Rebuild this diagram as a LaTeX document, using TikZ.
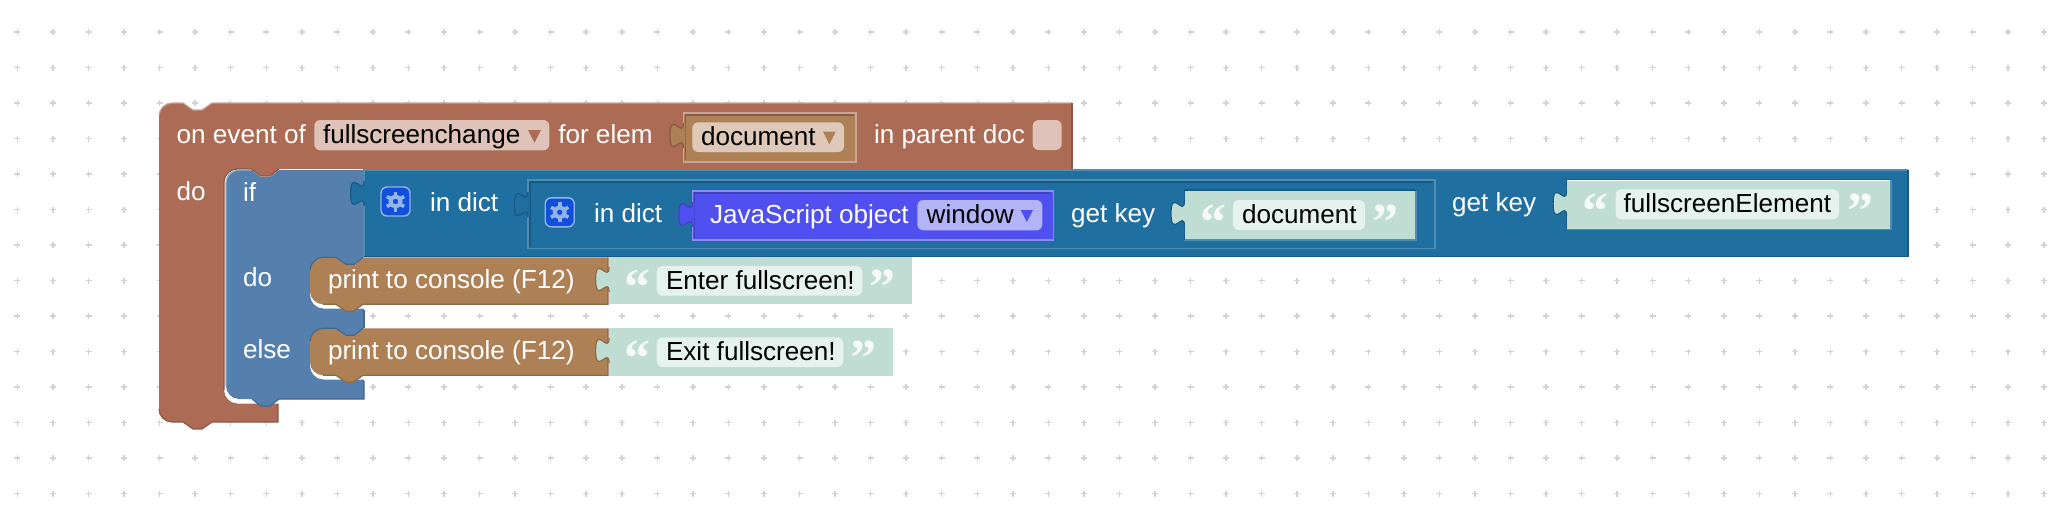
\documentclass[tikz,border=0pt]{standalone}
\usepackage{fontspec}
\setmainfont{Liberation Sans}
\newfontfamily\quotefont{Liberation Serif}[BoldFont={Liberation Serif Bold}]
\definecolor{evt}{HTML}{AB6B55}
\definecolor{evtL}{HTML}{C9A597}
\definecolor{evtD}{HTML}{8C5745}
\definecolor{evtF}{HTML}{DFC2B8}
\definecolor{lgc}{HTML}{5580AD}
\definecolor{lgcL}{HTML}{8FAECB}
\definecolor{lgcD}{HTML}{44688E}
\definecolor{dct}{HTML}{206FA1}
\definecolor{dctL}{HTML}{4F8DB5}
\definecolor{dctD}{HTML}{195A84}
\definecolor{prt}{HTML}{AD8155}
\definecolor{prtL}{HTML}{C7A888}
\definecolor{prtD}{HTML}{8D6944}
\definecolor{prtF}{HTML}{DEC9B8}
\definecolor{jso}{HTML}{5050F0}
\definecolor{jsoL}{HTML}{8C8CF6}
\definecolor{jsoD}{HTML}{4141C4}
\definecolor{jsoF}{HTML}{B3B3F8}
\definecolor{txb}{HTML}{BFDDD2}
\definecolor{txbF}{HTML}{E5F2EE}
\definecolor{txbD}{HTML}{9DBFB3}
\definecolor{gridc}{HTML}{D2D2D2}
\definecolor{gearb}{HTML}{1050DC}
\definecolor{gearc}{HTML}{94B4E8}
\tikzset{
  x=0.5pt,y=-0.5pt,
  lbl/.style={anchor=base west,inner sep=0pt,outer sep=0pt,font=\fontsize{13.05}{15}\selectfont,text=white},
  fldtxt/.style={lbl,text=black},
  quot/.style={anchor=base,inner sep=0pt,outer sep=0pt,font=\quotefont\bfseries\fontsize{26}{28}\selectfont,text=white,opacity=0.85},
  pill/.style={rounded corners=3pt},
  edgeL/.style={line width=0.6pt},
  edgeD/.style={line width=0.6pt},
}
% bevelled rectangle: x1 y1 x2 y2 fill light dark
\newcommand{\bevelbox}[7]{%
  \fill[#5] (#1,#2) rectangle (#3,#4);
  \draw[#6,edgeL] (#1,#4) -- (#1,#2) -- (#3,#2);
  \draw[#7,edgeD] (#1,#4) -- (#3,#4) -- (#3,#2);
}
% puzzle tab: right x, top y, fill, edge
\newcommand{\puzzletab}[4]{%
  \fill[#3] (#1+2,#2+25) -- (#1,#2+25) .. controls (#1,#2+8.3) and (#1-13.4,#2+38.4) .. (#1-13.4,#2+12.5)
     .. controls (#1-13.4,#2-13.4) and (#1,#2+16.7) .. (#1,#2) -- (#1+2,#2) -- cycle;
  \draw[#4,line width=0.6pt] (#1,#2+25) .. controls (#1,#2+8.3) and (#1-13.4,#2+38.4) .. (#1-13.4,#2+12.5)
     .. controls (#1-13.4,#2-13.4) and (#1,#2+16.7) .. (#1,#2);
}
% inset value frame (outer light, inner dark top)
\newcommand{\frameinset}[7]{%
  \fill[#5] (#1,#2) rectangle (#3,#4);
  \draw[#6,line width=0.8pt] (#1,#2) rectangle (#3,#4);
  \draw[#7,line width=0.8pt] (#1+2,#4-2) -- (#1+2,#2+2) -- (#3-2,#2+2);
}
% statement block with notch and tab
\newcommand{\printblock}[1]{%
  \fill[prt] (310,#1+13) .. controls (310,#1+6) and (316,#1) .. (323,#1) -- (336,#1) -- (346,#1+7) -- (354,#1+7) -- (363,#1)
     -- (608,#1) -- (608,#1+47) -- (363,#1+47) -- (353,#1+54) -- (346,#1+54) -- (336,#1+47) -- (323,#1+47)
     .. controls (316,#1+47) and (310,#1+41) .. (310,#1+34) -- cycle;
  \draw[prtL,edgeL] (363,#1) -- (608,#1);
  \draw[prtD,edgeD] (608,#1) -- (608,#1+47) -- (363,#1+47) -- (353,#1+54) -- (346,#1+54) -- (336,#1+47) -- (323,#1+47);
  \draw[lgcD,edgeD] (310,#1+13) .. controls (310,#1+6) and (316,#1) .. (323,#1) -- (336,#1) -- (346,#1+7) -- (354,#1+7) -- (363,#1);
}
\newcommand{\gearicon}[3]{%
  \node[draw=gearc,fill=gearb,line width=0.7pt,rounded corners=3pt,minimum size=14.5pt,inner sep=0pt] (#3) at (#1,#2) {};
  \foreach \a in {30,90,...,330}{
    \draw[gearc,line width=1.8pt] ([shift={(\a:5)}]#1,#2) -- ([shift={(\a:10)}]#1,#2);
  }
  \draw[gearc,line width=2pt] (#1,#2) circle[radius=2.5pt];
}
\begin{document}
\begin{tikzpicture}
\useasboundingbox (0,0) rectangle (2070,514);
\fill[white] (0,0) rectangle (2070,514);
% grid
\foreach \i in {0,...,57}{
  \foreach \j in {0,...,13}{
    \draw[gridc,line width=0.75pt] ({17.4+35.55*\i-3},{32+35.5*\j}) -- ++(6,0) ({17.4+35.55*\i},{32+35.5*\j-3}) -- ++(0,6);
  }
}
% event block
\fill[evt] (159,116) .. controls (159,109) and (165,103) .. (172,103) -- (183,103) -- (193,110) -- (202,110) -- (212,103)
  -- (1072,103) -- (1072,169) -- (279,169) -- (270,176) -- (261,176) -- (251,169) -- (237,169)
  .. controls (230,169) and (224,175) .. (224,182) -- (224,390) .. controls (224,397) and (230,403.5) .. (237,403.5)
  -- (278,403.5) -- (278,422) -- (212,422) -- (202,429) -- (193,429) -- (183,422) -- (172,422)
  .. controls (165,422) and (159,416) .. (159,409) -- cycle;
\draw[evtL,edgeL] (159,116) .. controls (159,109) and (165,103) .. (172,103) -- (183,103) -- (193,110) -- (202,110) -- (212,103) -- (1072,103);
\draw[evtD,edgeD] (1072,103) -- (1072,169);
\draw[evtD,edgeD] (278,403.5) -- (278,422) -- (212,422) -- (202,429) -- (193,429) -- (183,422) -- (172,422) .. controls (165,422) and (159,416) .. (159,409);
\draw[evtD,edgeD] (279,169) -- (270,176) -- (261,176) -- (251,169) -- (237,169) .. controls (230,169) and (224,175) .. (224,182) -- (224,390);
% if block
\fill[lgc] (226,183) .. controls (226,176) and (232,170) .. (239,170) -- (251,170) -- (261,177) -- (270,177) -- (279,170)
  -- (364,170) -- (364,257) -- (363,257) -- (354,264) -- (346,264) -- (336,257) -- (323,257)
  .. controls (316,257) and (310,263) .. (310,270) -- (310,295) .. controls (310,302) and (316,308.5) .. (323,308.5)
  -- (364,308.5) -- (364,328) -- (363,328) -- (354,335) -- (346,335) -- (336,328) -- (323,328)
  .. controls (316,328) and (310,334) .. (310,341) -- (310,366) .. controls (310,373) and (316,379.5) .. (323,379.5)
  -- (364,379.5) -- (364,399) -- (279,399) -- (270,406) -- (261,406) -- (252,399) -- (239,399)
  .. controls (232,399) and (226,393) .. (226,386) -- cycle;
\draw[lgcL,edgeL] (226,386) -- (226,183) .. controls (226,176) and (232,170) .. (239,170) -- (251,170);
\draw[lgcD,edgeD] (364,310) -- (364,328);
\draw[lgcD,edgeD] (364,381) -- (364,399) -- (279,399) -- (270,406) -- (261,406) -- (252,399);
% dict block (outer)
\bevelbox{364}{170}{1908}{256.7}{dct}{dctL}{dctD}
\puzzletab{364}{181}{dct}{dctD}
% dict block (inner)
\frameinset{527.7}{180}{1435}{248.3}{dct}{dctL}{dctD}
\puzzletab{527.7}{192}{dct}{dctD}
% JS object
\frameinset{692.3}{191}{1053.3}{240}{jso}{jsoL}{jsoD}
\puzzletab{692.3}{202}{jso}{jsoD}
% teal: document
\bevelbox{1184.4}{190.7}{1416}{240}{txb}{white}{dctL}
\draw[dctD,line width=0.8pt] (1184.4,240) -- (1184.4,190) -- (1416,190);
\puzzletab{1184.4}{201}{txb}{dctD}
% teal: fullscreenElement
\bevelbox{1566.5}{180}{1891}{229.3}{txb}{white}{dctL}
\draw[dctD,line width=0.8pt] (1566.5,229.3) -- (1566.5,179.3) -- (1891,179.3);
\puzzletab{1566.5}{191}{txb}{dctD}
% print blocks
\printblock{257.3}
\printblock{328.3}
% teal: Enter / Exit
\fill[txb] (609,257.3) rectangle (912,304.3);
\puzzletab{609}{267}{txb}{prtD}
\fill[txb] (609,328.3) rectangle (893.3,375.7);
\puzzletab{609}{338}{txb}{prtD}
% document dropdown
\frameinset{683.3}{112.7}{856}{161.7}{prt}{evtL}{evtD}
\puzzletab{683.3}{123}{prt}{evtD}
% fields
\fill[evtF,pill] (314.3,120) rectangle (549.3,150.3);
\fill[prtF,pill] (692.3,122.3) rectangle (844,152);
\fill[evtF,pill] (1032.7,120) rectangle (1061.7,150);
\fill[jsoF,pill] (917.3,200) rectangle (1042.3,230.3);
\fill[txbF,pill] (656.7,266) rectangle (862.3,295.7);
\fill[txbF,pill] (656.7,337.3) rectangle (843.3,367);
\fill[txbF,pill] (1233,200) rectangle (1365,230);
\fill[txbF,pill] (1615.5,189.3) rectangle (1839,219.3);
% dropdown triangles
\fill[evt] (528,130) -- (541,130) -- (534.5,142.7) -- cycle;
\fill[prt] (823,131.7) -- (835.7,131.7) -- (829.3,144.3) -- cycle;
\fill[jso] (1020.7,210) -- (1033,210) -- (1026.8,222) -- cycle;
% gears
\gearicon{395.5}{201.5}{gearA}
\gearicon{559.7}{212.3}{gearB}
% labels
\node[lbl] (onevent) at (176.7,143.5) {on event of};
\node[fldtxt] (fsc) at (323,143.5) {fullscreenchange};
\node[lbl] (forelem) at (558.3,143.5) {for elem};
\node[fldtxt] (docA) at (701,145) {document};
\node[lbl] (inparent) at (874,143.5) {in parent doc};
\node[lbl] (doA) at (176.7,200) {do};
\node[lbl] (ifL) at (243,201) {if};
\node[lbl] (doB) at (243,286.5) {do};
\node[lbl] (elseL) at (243,358.5) {else};
\node[lbl] (indictA) at (430,211) {in dict};
\node[lbl] (indictB) at (594,222) {in dict};
\node[lbl] (jsobj) at (710,223) {JavaScript object};
\node[fldtxt] (win) at (926.7,223) {window};
\node[lbl] (getA) at (1071,222.5) {get key};
\node[lbl] (getB) at (1452,211) {get key};
\node[fldtxt] (docB) at (1242,223) {document};
\node[fldtxt] (fse) at (1623.7,212.5) {fullscreenElement};
\node[lbl] (prA) at (328,288) {print to console (F12)};
\node[lbl] (prB) at (328,359.5) {print to console (F12)};
\node[fldtxt] (enter) at (666,289.5) {Enter fullscreen!};
\node[fldtxt] (exit) at (666,360.5) {Exit fullscreen!};
% quotes
\node[quot] (qa1) at (637,304) {“};
\node[quot] (qa2) at (882.5,304) {”};
\node[quot] (qb1) at (637,375) {“};
\node[quot] (qb2) at (863,375) {”};
\node[quot] (qc1) at (1213.5,239) {“};
\node[quot] (qc2) at (1385,239) {”};
\node[quot] (qd1) at (1595.5,228) {“};
\node[quot] (qd2) at (1860,228) {”};
\end{tikzpicture}
\end{document}
